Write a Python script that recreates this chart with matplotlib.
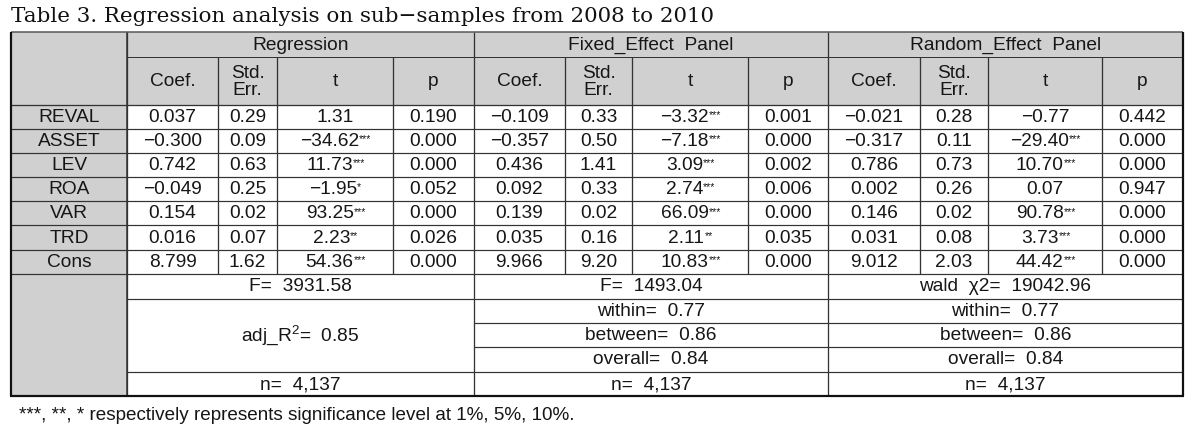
import matplotlib
matplotlib.use('Agg')
import matplotlib.pyplot as plt
from matplotlib import font_manager
from matplotlib.font_manager import FontProperties
from matplotlib.patches import Rectangle


def pick(cands):
    for c in cands:
        try:
            font_manager.findfont(FontProperties(family=c), fallback_to_default=False)
            return c
        except Exception:
            pass
    return 'DejaVu Sans'


SANS = pick(['Liberation Sans Narrow', 'DejaVu Sans Condensed', 'Liberation Sans'])
SERIF = pick(['DejaVu Serif', 'Liberation Serif'])
FAM = [SANS, 'DejaVu Sans']

plt.rcParams['mathtext.fontset'] = 'custom'
plt.rcParams['mathtext.rm'] = SANS
plt.rcParams['mathtext.it'] = SANS
plt.rcParams['mathtext.bf'] = SANS

# ---------------- data ----------------
title = "Table 3. Regression analysis on sub\u2212samples from 2008 to 2010"
footnote = "***, **, * respectively represents significance level at 1%, 5%, 10%."
groups = ['Regression', 'Fixed_Effect  Panel', 'Random_Effect  Panel']
subheaders = ['Coef.', 'Std.\nErr.', 't', 'p']
variables = ['REVAL', 'ASSET', 'LEV', 'ROA', 'VAR', 'TRD', 'Cons']

reg_coef = [0.037, -0.300, 0.742, -0.049, 0.154, 0.016, 8.799]
reg_se = [0.29, 0.09, 0.63, 0.25, 0.02, 0.07, 1.62]
reg_t = [1.31, -34.62, 11.73, -1.95, 93.25, 2.23, 54.36]
reg_sig = ['', '***', '***', '*', '***', '**', '***']
reg_p = [0.190, 0.000, 0.000, 0.052, 0.000, 0.026, 0.000]

fe_coef = [-0.109, -0.357, 0.436, 0.092, 0.139, 0.035, 9.966]
fe_se = [0.33, 0.50, 1.41, 0.33, 0.02, 0.16, 9.20]
fe_t = [-3.32, -7.18, 3.09, 2.74, 66.09, 2.11, 10.83]
fe_sig = ['***', '***', '***', '***', '***', '**', '***']
fe_p = [0.001, 0.000, 0.002, 0.006, 0.000, 0.035, 0.000]

re_coef = [-0.021, -0.317, 0.786, 0.002, 0.146, 0.031, 9.012]
re_se = [0.28, 0.11, 0.73, 0.26, 0.02, 0.08, 2.03]
re_t = [-0.77, -29.40, 10.70, 0.07, 90.78, 3.73, 44.42]
re_sig = ['', '***', '***', '', '***', '***', '***']
re_p = [0.442, 0.000, 0.000, 0.947, 0.000, 0.000, 0.000]

reg_F = 3931.58
reg_adj_r2 = 0.85
fe_F = 1493.04
fe_within, fe_between, fe_overall = 0.77, 0.86, 0.84
re_wald = 19042.96
re_within, re_between, re_overall = 0.77, 0.86, 0.84
n_obs = 4137

# ---------------- layout (pixels) ----------------
W, H = 1203, 440
fig = plt.figure(figsize=(W / 100, H / 100), dpi=100)
ax = fig.add_axes([0, 0, 1, 1])
ax.set_xlim(0, W)
ax.set_ylim(H, 0)
ax.axis('off')

X0, X1 = 11, 1183
XL = 127
col_edges = [[127, 218, 277, 393, 474], [474, 565, 632, 748, 828], [828, 920, 988, 1102, 1183]]
Y0 = 32
YH1 = 57
YH2 = 105
RH = 24.1
YD = [YH2 + RH * i for i in range(8)]
YF = 299
YW = 323
YB = 347
YO = 372
Y1 = 396

GRAY = '#d0d0d0'
LC = '#333333'
TC = '#161616'
PX = 0.72
FS = 13.8

ax.add_patch(Rectangle((X0, Y0), X1 - X0, YH2 - Y0, facecolor=GRAY, edgecolor='none'))
ax.add_patch(Rectangle((X0, YH2), XL - X0, Y1 - YH2, facecolor=GRAY, edgecolor='none'))


def hl(y, xa, xb, lw=1.0, c=LC):
    ax.plot([xa, xb], [y, y], color=c, lw=lw * PX, solid_capstyle='butt')


def vl(x, ya, yb, lw=1.0, c=LC):
    ax.plot([x, x], [ya, yb], color=c, lw=lw * PX, solid_capstyle='butt')


hl(YH1, XL, X1)
hl(YH2, X0, X1, 1.3)
for y in YD[1:]:
    hl(y, X0, X1, 1.2)
hl(YF, XL, X1, 1.2)
hl(YW, col_edges[1][0], X1, 1.2)
hl(YB, col_edges[1][0], X1, 1.2)
hl(YO, XL, X1, 1.2)

vl(XL, Y0, Y1, 1.5)
for g in col_edges:
    vl(g[0], Y0, Y1, 1.3)
    for x in g[1:4]:
        vl(x, YH1, YD[-1], 1.3)

# outer border
hl(Y0, X0, X1, 1.5, '#555555')
hl(Y1, X0 - 1, X1 + 1, 2.2, '#111111')
vl(X0, Y0, Y1, 2.2, '#111111')
vl(X1, Y0, Y1, 2.2, '#111111')


def txt(x, y, s, **kw):
    kw.setdefault('fontsize', FS)
    return ax.text(x, y, s, ha='center', va='center', family=FAM, color=TC, **kw)


def fmt(v, d):
    s = f"{abs(v):.{d}f}"
    return ('\u2212' + s) if v < 0 else s


def cell_num(x, y, v, d, sig=''):
    shift = 1.8 * len(sig)
    t = txt(x - shift, y, fmt(v, d))
    if sig:
        ax.annotate(sig, xy=(1.0, 0.93), xycoords=t, ha='left', va='top',
                    fontsize=7.6, family=FAM, color=TC)


# title
ax.text(11, 16, title, ha='left', va='center', family=SERIF, fontsize=15.4, color='#111111')

# headers
for gi, g in enumerate(col_edges):
    txt((g[0] + g[-1]) / 2, (Y0 + YH1) / 2 + 0.5, groups[gi])
    for ci in range(4):
        cx = (g[ci] + g[ci + 1]) / 2
        txt(cx, (YH1 + YH2) / 2 + 1, subheaders[ci], linespacing=1.05)

blocks = [
    (reg_coef, reg_se, reg_t, reg_sig, reg_p),
    (fe_coef, fe_se, fe_t, fe_sig, fe_p),
    (re_coef, re_se, re_t, re_sig, re_p),
]

for i, var in enumerate(variables):
    yc = (YD[i] + YD[i + 1]) / 2 + 0.5
    txt((X0 + XL) / 2, yc, var)
    for gi, (co, se, tv, sg, pv) in enumerate(blocks):
        g = col_edges[gi]
        cx = [(g[k] + g[k + 1]) / 2 for k in range(4)]
        cell_num(cx[0], yc, co[i], 3)
        cell_num(cx[1], yc, se[i], 2)
        cell_num(cx[2], yc, tv[i], 2, sg[i])
        cell_num(cx[3], yc, pv[i], 3)

# lower statistics
gr, gf, gw = col_edges
cr = (gr[0] + gr[-1]) / 2
cf = (gf[0] + gf[-1]) / 2
cw = (gw[0] + gw[-1]) / 2
yF = (YD[-1] + YF) / 2 + 0.5
txt(cr, yF, f"F=  {reg_F:.2f}")
txt(cf, yF, f"F=  {fe_F:.2f}")
txt(cw, yF, f"wald  \u03c72=  {re_wald:.2f}")

txt(cr, (YF + YO) / 2, f"adj_R$^{{2}}$=  {reg_adj_r2:.2f}")
for cx, w_, b_, o_ in [(cf, fe_within, fe_between, fe_overall), (cw, re_within, re_between, re_overall)]:
    txt(cx, (YF + YW) / 2 + 0.5, f"within=  {w_:.2f}")
    txt(cx, (YW + YB) / 2 + 0.5, f"between=  {b_:.2f}")
    txt(cx, (YB + YO) / 2 + 0.5, f"overall=  {o_:.2f}")

yN = (YO + Y1) / 2 + 0.5
for cx in (cr, cf, cw):
    txt(cx, yN, f"n=  {n_obs:,}")

ax.text(19, 415, footnote, ha='left', va='center', family=FAM, fontsize=13.6, color=TC)

fig.savefig('out.png', dpi=100)
